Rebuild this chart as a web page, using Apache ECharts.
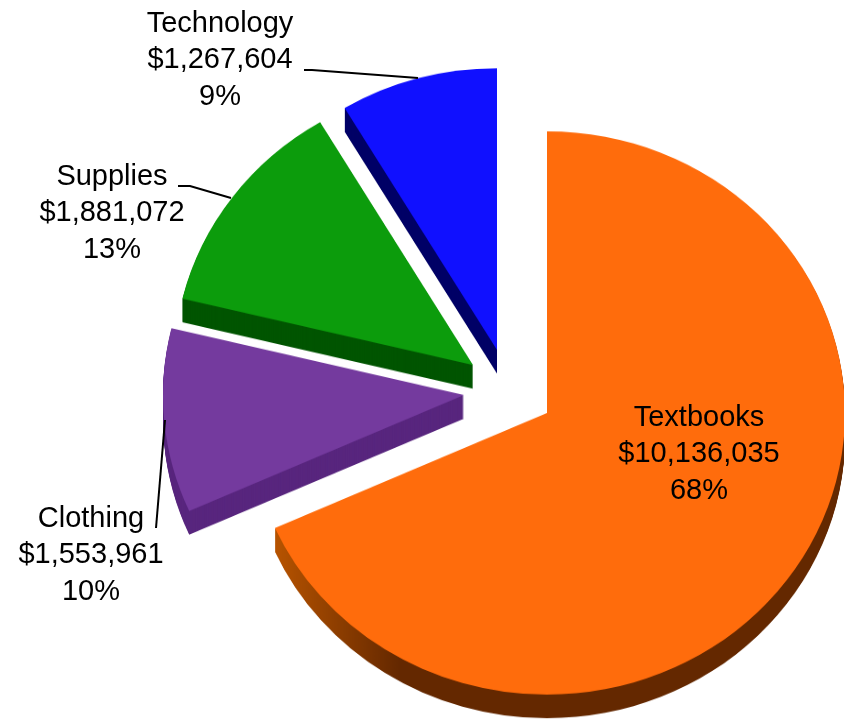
<!DOCTYPE html>
<html>
<head>
<meta charset="utf-8">
<title>Sales by category</title>
<script src="https://cdn.jsdelivr.net/npm/echarts@6/dist/echarts.min.js"></script>
<style>
  html, body { margin: 0; padding: 0; background: #fff; overflow: hidden; }
  #stage { position: relative; width: 844px; height: 720px; overflow: hidden; }
  /* the pie is squashed a little to get the tilted look of the original */
  #pie { position: absolute; left: 0; top: 0; width: 844px; height: 762px; transform: scaleY(0.945); transform-origin: 0 0; }
  #labels { position: absolute; left: 0; top: 0; width: 844px; height: 720px; }
</style>
</head>
<body>
<div id="stage">
  <div id="pie"></div>
  <div id="labels"></div>
</div>
<script>
const categories = ['Textbooks', 'Clothing', 'Supplies', 'Technology']
const sales = [10136035, 1553961, 1881072, 1267604]
const percents = [68, 10, 13, 9]

const topColors = ['#ff6c0c', '#743a9e', '#0c9c0c', '#1010ff']
const sideColors = ['#642800', '#58267e', '#005500', '#000066']

// apex of each exploded slice, as seen on the page
const apexX = [547, 464, 473, 497]
const apexY = [413, 395, 365, 350]
const radii = [298, 301, 299, 298]

const squash = 0.945
const depth = 25

// orange wall fades out towards its left end
const orangeSide = new echarts.graphic.LinearGradient(273, 0, 400, 0, [
  { offset: 0, color: '#b85400' },
  { offset: 1, color: '#642800' }
], true)

function sliceSeries(index, color, dy) {
  return {
    type: 'pie',
    silent: true,
    animation: false,
    startAngle: 90,
    center: [apexX[index], apexY[index] / squash + dy],
    radius: [0, radii[index]],
    label: { show: false },
    labelLine: { show: false },
    emphasis: { disabled: true },
    data: categories.map((name, i) => ({
      name: name,
      value: sales[i],
      itemStyle: { color: i === index ? color : 'transparent' }
    }))
  }
}

const series = []
// far slices first so nearer ones sit on top
for (let s = categories.length - 1; s >= 0; s--) {
  for (let d = depth; d > 0; d--) {
    series.push(sliceSeries(s, s === 0 ? orangeSide : sideColors[s], d))
  }
  series.push(sliceSeries(s, topColors[s], 0))
}

const pieChart = echarts.init(document.getElementById('pie'))
pieChart.setOption({ backgroundColor: 'transparent', series: series })

// labels live in their own layer so the text is not squashed
const labelX = [699, 91, 112, 220]
const labelY = [454, 555, 213, 60]
const leaders = [
  null,
  [[165, 420], [156, 528]],
  [[178, 186], [190, 186], [231, 198]],
  [[304, 70], [312, 70], [418, 78]]
]

function money(v) {
  return '$' + v.toLocaleString('en-US')
}

const elements = []
categories.forEach((name, i) => {
  elements.push({
    type: 'text',
    x: labelX[i],
    y: labelY[i],
    style: {
      text: name + '\n' + money(sales[i]) + '\n' + percents[i] + '%',
      font: '29px "Liberation Sans", Arial, sans-serif',
      lineHeight: 36.5,
      fill: '#000',
      align: 'center',
      verticalAlign: 'middle'
    }
  })
  if (leaders[i]) {
    elements.push({
      type: 'polyline',
      shape: { points: leaders[i] },
      style: { stroke: '#000', lineWidth: 2, fill: null }
    })
  }
})

const labelChart = echarts.init(document.getElementById('labels'))
labelChart.setOption({ backgroundColor: 'transparent', graphic: { elements: elements } })
</script>
</body>
</html>
